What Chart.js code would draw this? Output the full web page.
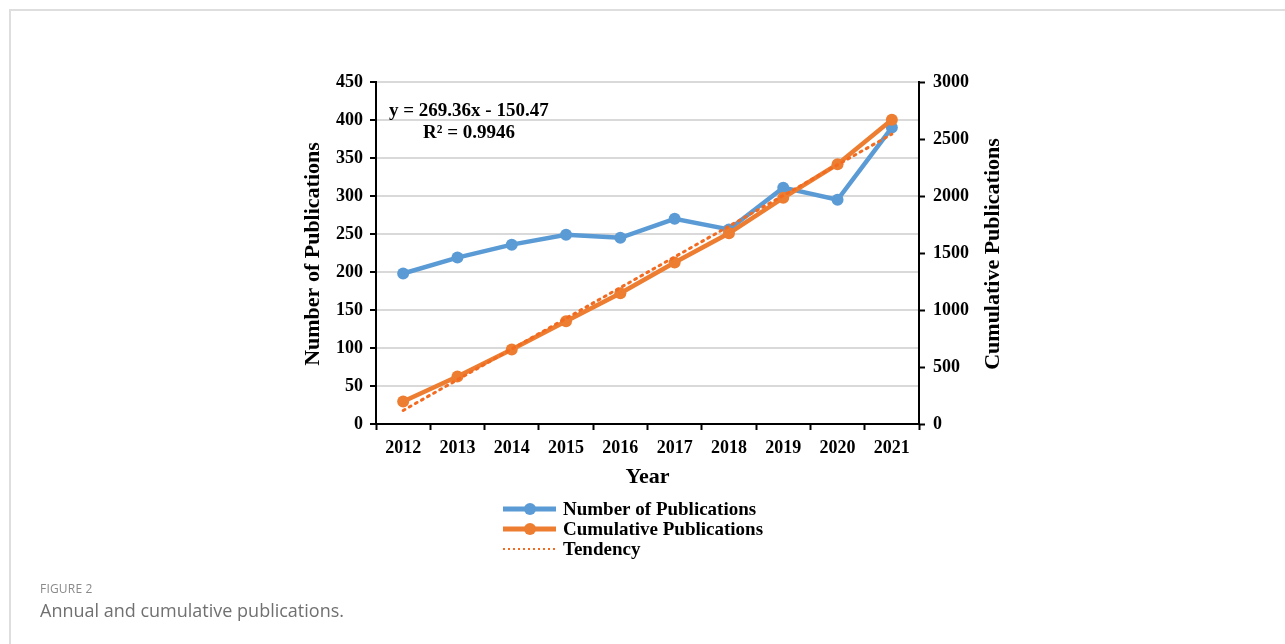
<!DOCTYPE html>
<html>
<head>
<meta charset="utf-8">
<script src="https://cdn.jsdelivr.net/npm/chart.js@4.4.1/dist/chart.umd.min.js"></script>
<style>
  body { margin: 0; background: #fff; }
  .frame { position: absolute; left: 9px; top: 9px; right: 0; bottom: 0; border-top: 2px solid #dedede; border-left: 2px solid #dedede; }
  #chart-1 { position: absolute; left: 0; top: 0; }
  .fig-no { position: absolute; left: 40px; top: 580px; font: 12px "Open Sans", sans-serif; color: #8a8a8a; letter-spacing: 0.2px; }
  .fig-cap { position: absolute; left: 40px; top: 598px; font: 18px "Open Sans", sans-serif; color: #707070; }
</style>
</head>
<body>
<div class="frame"></div>
<canvas id="chart-1" width="1285" height="644"></canvas>
<div class="fig-no">FIGURE 2</div>
<div class="fig-cap">Annual and cumulative publications.</div>
<script>
// data
var years = ["2012", "2013", "2014", "2015", "2016", "2017", "2018", "2019", "2020", "2021"];
var yearly = [198, 219, 236, 249, 245, 270, 256, 311, 295, 390];
var cumulative = [198, 417, 653, 902, 1147, 1417, 1673, 1984, 2279, 2669];
// trend line, only the two ends are read, the line spans between them
var tendency = [119, null, null, null, null, null, null, null, null, 2543];

var serif = '"Liberation Serif", "Times New Roman", serif';
var blue = "#5B9BD5";
var orange = "#ED7D31";
var dotted = "#F26B21";

// axis titles, equation and the legend are drawn by hand
var extras = {
    id: "extras",
    afterDraw: function (chart) {
        var c = chart.ctx;
        var a = chart.chartArea;
        c.save();
        c.fillStyle = "#000";
        c.textAlign = "center";
        c.textBaseline = "middle";

        c.font = "bold 22px " + serif;
        c.save();
        c.translate(313, (a.top + a.bottom) / 2 + 1);
        c.rotate(-Math.PI / 2);
        c.fillText("Number of Publications", 0, 0);
        c.restore();

        c.save();
        c.translate(993, (a.top + a.bottom) / 2 + 1);
        c.rotate(-Math.PI / 2);
        c.fillText("Cumulative Publications", 0, 0);
        c.restore();

        c.fillText("Year", (a.left + a.right) / 2, 477);

        c.font = "bold 19px " + serif;
        c.textAlign = "left";
        c.fillText("y = 269.36x - 150.47", 389, 111);
        c.fillText("R\u00b2 = 0.9946", 423, 133);

        // legend
        var items = [
            { text: "Number of Publications", color: blue, dot: true },
            { text: "Cumulative Publications", color: orange, dot: true },
            { text: "Tendency", color: dotted, dot: false }
        ];
        c.font = "bold 19px " + serif;
        items.forEach(function (it, i) {
            var y = 509 + i * 20;
            c.strokeStyle = it.color;
            if (it.dot) {
                c.lineWidth = 5;
                c.setLineDash([]);
                c.beginPath();
                c.moveTo(503, y);
                c.lineTo(556, y);
                c.stroke();
                c.fillStyle = it.color;
                c.beginPath();
                c.arc(530, y, 6, 0, Math.PI * 2);
                c.fill();
            } else {
                c.lineWidth = 2;
                c.setLineDash([2, 3]);
                c.beginPath();
                c.moveTo(503, y);
                c.lineTo(556, y);
                c.stroke();
                c.setLineDash([]);
            }
            c.fillStyle = "#000";
            c.fillText(it.text, 563, y + 1);
        });
        c.restore();
    }
};

var plain = function (v) { return String(v); };

var ctx_1 = document.getElementById("chart-1");
var myChart = new Chart(ctx_1, {
    type: "line",
    data: {
        labels: years,
        datasets: [{
            label: "Tendency",
            data: tendency,
            yAxisID: "y2",
            borderColor: dotted,
            borderWidth: 3,
            borderDash: [2, 5],
            borderCapStyle: "round",
            pointRadius: 0,
            spanGaps: true,
            order: 0
        }, {
            label: "Cumulative Publications",
            data: cumulative,
            yAxisID: "y2",
            borderColor: orange,
            backgroundColor: orange,
            borderWidth: 4.5,
            pointRadius: 6,
            pointBorderWidth: 0,
            order: 1
        }, {
            label: "Number of Publications",
            data: yearly,
            yAxisID: "y",
            borderColor: blue,
            backgroundColor: blue,
            borderWidth: 4.5,
            pointRadius: 6,
            pointBorderWidth: 0,
            order: 2
        }]
    },
    options: {
        responsive: false,
        animation: false,
        layout: {
            padding: { left: 300, right: 276, top: 82, bottom: 160 }
        },
        plugins: {
            legend: { display: false },
            tooltip: { enabled: false }
        },
        scales: {
            x: {
                offset: true,
                grid: { offset: true, drawOnChartArea: false, tickColor: "#000", tickLength: 6, tickWidth: 2 },
                border: { color: "#000", width: 2 },
                ticks: { color: "#000", font: { family: serif, size: 18, weight: "bold" }, padding: 8, maxRotation: 0 },
                afterFit: function (s) { s.height = 60; }
            },
            y: {
                position: "left",
                min: 0,
                max: 450,
                ticks: { stepSize: 50, color: "#000", font: { family: serif, size: 18, weight: "bold" }, padding: 7, callback: plain },
                grid: { color: "#d9d9d9", lineWidth: 2, tickColor: "#000", tickLength: 6, tickWidth: 2 },
                border: { color: "#000", width: 2 },
                afterFit: function (s) { s.width = 76; }
            },
            y2: {
                position: "right",
                min: 0,
                max: 3000,
                ticks: { stepSize: 500, color: "#000", font: { family: serif, size: 18, weight: "bold" }, padding: 8, callback: plain },
                grid: { drawOnChartArea: false, tickColor: "#000", tickLength: 6, tickWidth: 2 },
                border: { color: "#000", width: 2 },
                afterFit: function (s) { s.width = 90; }
            }
        }
    },
    plugins: [extras]
});
</script>
</body>
</html>
